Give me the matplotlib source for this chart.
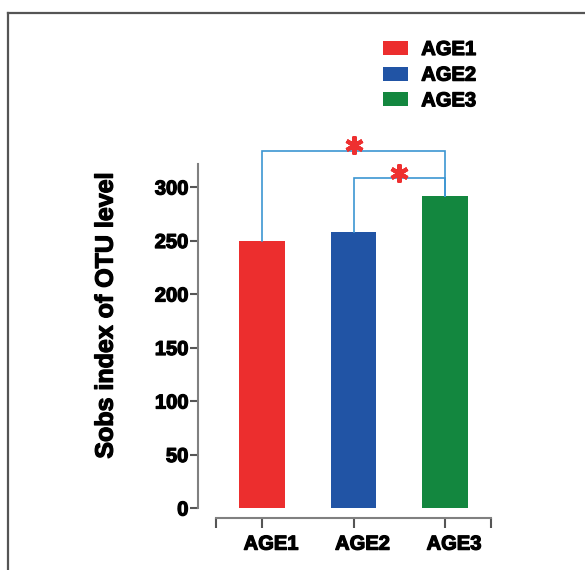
import matplotlib.pyplot as plt
import matplotlib.transforms as mtransforms
import matplotlib.patheffects as pe
from matplotlib.lines import Line2D
from matplotlib.patches import Patch

plt.rcParams['font.family'] = ['Liberation Sans', 'DejaVu Sans']
plt.rcParams['font.weight'] = 'bold'

# Sobs index per age group
groups = ['AGE1', 'AGE2', 'AGE3']
sobs = [250, 258, 292]
bar_colors = ['#EC2E2E', '#2154A5', '#13873F']

# significance brackets: (group a, group b, bracket height)
pairs = [(0, 2, 334), (1, 2, 308)]

fig = plt.figure(figsize=(5.85, 5.7), dpi=100)
ax = fig.add_axes([0.3385, 0.0712, 0.5162, 0.7509])

x = list(range(len(groups)))
ax.bar(x, sobs, width=0.5, color=bar_colors, zorder=2)

# brackets drawn from the top of each bar
bracket_col = '#3C96D2'
for a, b, h in pairs:
    ax.plot([a, a, b, b], [sobs[a], h, h, sobs[b]], color=bracket_col,
            lw=1.2, zorder=3, solid_joinstyle='miter')
    ax.plot([(a + b) / 2], [h + 5.5], marker=(6, 2, 0), ms=13, mew=3,
            color='#EE3030', zorder=4)

ax.set_xlim(-0.7, 2.6)
ax.set_ylim(-20, 380)

spine_col = '#808080'
for s in ['top', 'right']:
    ax.spines[s].set_visible(False)
ax.spines['left'].set_bounds(0, 321.5)
ax.spines['left'].set_color(spine_col)
ax.spines['left'].set_linewidth(1.5)
ax.spines['bottom'].set_position(('data', -9.3))
ax.spines['bottom'].set_bounds(-0.5, 2.5)
ax.spines['bottom'].set_color(spine_col)
ax.spines['bottom'].set_linewidth(1.5)

ax.set_yticks(range(0, 301, 50))
ax.tick_params(axis='y', direction='out', length=6, width=1.5, color='#555555',
               labelsize=14.5, pad=1)
ax.set_xticks([-0.5, 0, 1, 2, 2.5])
ax.set_xticklabels([''] + groups + [''])
ax.tick_params(axis='x', direction='out', length=7, width=1.5, color='#555555',
               labelsize=14.5, pad=5)
shift = mtransforms.ScaledTranslation(9 / 100, 0, fig.dpi_scale_trans)
for lbl in ax.get_xticklabels():
    lbl.set_transform(lbl.get_transform() + shift)

# heavier strokes for all labels
heavy = [pe.withStroke(linewidth=0.9, foreground='black')]
for lbl in ax.get_xticklabels() + ax.get_yticklabels():
    lbl.set_fontweight('bold')
    lbl.set_path_effects(heavy)

ylab = ax.set_ylabel('Sobs index of OTU level', fontsize=18, fontweight='bold', va='center')
ylab.set_path_effects(heavy)
ax.yaxis.set_label_coords(-0.306, 0.5)

handles = [Patch(facecolor=c, edgecolor='none') for c in bar_colors]
leg = fig.legend(handles, groups, loc='upper left', bbox_to_anchor=(383 / 585, 1 - 40 / 570),
                 frameon=False, borderpad=0, borderaxespad=0, handlelength=1.25,
                 handleheight=0.7, handletextpad=0.65, labelspacing=0.33,
                 prop={'size': 14.5, 'weight': 'bold'})
for t in leg.get_texts():
    t.set_path_effects(heavy)

# outer frame along left and top
fig.add_artist(Line2D([8 / 585, 8 / 585], [0, 1 - 13 / 570], color='#555555', lw=1.6))
fig.add_artist(Line2D([8 / 585, 1], [1 - 13 / 570, 1 - 13 / 570], color='#555555', lw=1.6))

fig.savefig('out.png', dpi=100)
